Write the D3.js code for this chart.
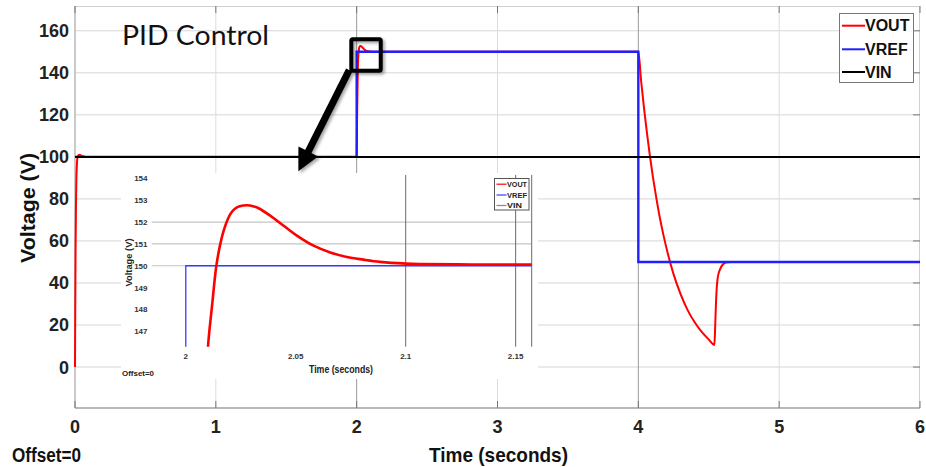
<!DOCTYPE html>
<html><head><meta charset="utf-8">
<script src="https://cdn.jsdelivr.net/npm/d3@7"></script>
<style>body{margin:0;background:#fff}svg{display:block}</style>
</head><body><svg id="c" width="926" height="467"></svg>
<script>
// ---------- data ----------
const timeTicks = [0, 1, 2, 3, 4, 5, 6];
const voltTicks = [0, 20, 40, 60, 80, 100, 120, 140, 160];
const vinTime = [0, 6];
const vinVolt = [100, 100];
const vrefTime = [0, 2, 2, 4, 4, 6];
const vrefVolt = [100, 100, 150, 150, 50, 50];
const voutTime = [0, 0.002, 0.004, 0.007, 0.01, 0.014, 0.02, 0.03, 0.045, 0.07, 0.1, 2.0,
  2.003, 2.006, 2.0085, 2.0101, 2.0119, 2.0139, 2.0157, 2.0172, 2.0195, 2.021, 2.0225, 2.0245, 2.0278,
  2.031, 2.0331, 2.0384, 2.0445, 2.0505, 2.0581, 2.0657, 2.0733, 2.0808, 2.0884, 2.1001, 2.1066,
  2.13, 2.16, 4.0,
  4.02, 4.04, 4.06, 4.08, 4.1, 4.12, 4.15, 4.18, 4.21, 4.25, 4.3, 4.35, 4.4, 4.45, 4.5, 4.54,
  4.545, 4.55, 4.557, 4.565, 4.58, 4.6, 4.63, 4.66, 6];
const voutVolt = [0, 30, 55, 78, 90, 97, 100.4, 101, 100.6, 100.1, 100, 100,
  118, 133, 142.5, 146.3, 148.13, 150, 151.0, 151.6, 152.22, 152.47, 152.62, 152.72, 152.77,
  152.71, 152.63, 152.29, 151.83, 151.38, 150.92, 150.61, 150.4, 150.28, 150.18, 150.1, 150.08,
  150.06, 150.05, 150,
  136, 123.4, 112, 101.5, 92, 83.6, 72, 62.3, 53.8, 44.2, 34.7, 27.1, 21.3, 16.7, 13.1, 10.5,
  18, 28, 38, 43, 46.5, 48.8, 49.9, 50, 50];
const seriesNames = ["VOUT", "VREF", "VIN"];
const seriesColors = ["#ff0000", "#1f1fff", "#000000"];
const insetSeriesColors = ["#ff0000", "#3a3aff", "#888888"];
const insetTimeTicks = [2, 2.05, 2.1, 2.15];
const insetVoltTicks = [147, 148, 149, 150, 151, 152, 153, 154];
const insetGridVolts = [150, 151, 152];
const insetGridTimes = [2.1, 2.15];
const zoomBox = {t0: 1.962, t1: 2.171, v0: 141, v1: 156};
const arrowFrom = {t: 1.947, v: 141.3};
const arrowTo = {t: 1.586, v: 93.2};

// ---------- setup ----------
const FONT = "'Liberation Sans', Arial, sans-serif";
const svg = d3.select("#c");
const defs = svg.append("defs");
const f = defs.append("filter").attr("id", "sh").attr("x", "-30%").attr("y", "-30%").attr("width", "160%").attr("height", "160%");
f.append("feDropShadow").attr("dx", 2).attr("dy", 2).attr("stdDeviation", 1.8).attr("flood-color", "#000").attr("flood-opacity", 0.35);

const L = 75, R = 920, T = 6, B = 408;
const x = d3.scaleLinear().domain([0, 6]).range([L, R]);
const y = d3.scaleLinear().domain([-19.5, 171.8]).range([B, T]);

const mk = (ts, vs) => ts.map((t, i) => [t, vs[i]]);
const vout = mk(voutTime, voutVolt), vref = mk(vrefTime, vrefVolt), vin = mk(vinTime, vinVolt);

// grid
const g = svg.append("g");
g.selectAll(".hg").data(voltTicks).join("line")
  .attr("x1", L).attr("x2", R).attr("y1", d => y(d)).attr("y2", d => y(d))
  .attr("stroke", "#d6d6d6").attr("stroke-width", 1);
g.selectAll(".vg").data(timeTicks.slice(1, -1)).join("line")
  .attr("x1", d => x(d)).attr("x2", d => x(d)).attr("y1", T).attr("y2", B)
  .attr("stroke", d => (d === 2 || d === 4) ? "#9a9a9a" : "#dcdcdc").attr("stroke-width", 1);
// frame
g.append("line").attr("x1", L).attr("x2", R).attr("y1", T + 0.5).attr("y2", T + 0.5).attr("stroke", "#d0d0d0");
g.append("line").attr("x1", R - 0.5).attr("x2", R - 0.5).attr("y1", T).attr("y2", B).attr("stroke", "#d0d0d0");
g.append("line").attr("x1", L).attr("x2", L).attr("y1", T).attr("y2", B).attr("stroke", "#b8b8b8").attr("stroke-width", 1.5);
g.append("line").attr("x1", L).attr("x2", R).attr("y1", B).attr("y2", B).attr("stroke", "#a0a0a0").attr("stroke-width", 1.5);
// inner ticks
g.selectAll(".tt").data(timeTicks).join("line")
  .attr("x1", d => x(d)).attr("x2", d => x(d)).attr("y1", T).attr("y2", T + 7).attr("stroke", "#777");
g.selectAll(".bt").data(timeTicks).join("line")
  .attr("x1", d => x(d)).attr("x2", d => x(d)).attr("y1", B - 7).attr("y2", B).attr("stroke", "#777");
g.selectAll(".rt").data(voltTicks).join("line")
  .attr("x1", R - 7).attr("x2", R).attr("y1", d => y(d)).attr("y2", d => y(d)).attr("stroke", "#777");

// tick labels
svg.append("g").selectAll("text").data(voltTicks).join("text")
  .attr("x", L - 6).attr("y", d => y(d)).attr("dy", "0.36em").attr("text-anchor", "end")
  .attr("font-family", FONT).attr("font-weight", "bold").attr("font-size", 18).attr("fill", "#222")
  .text(d => d);
svg.append("g").selectAll("text").data(timeTicks).join("text")
  .attr("x", d => x(d)).attr("y", 427).attr("dy", "0.36em").attr("text-anchor", "middle")
  .attr("font-family", FONT).attr("font-weight", "bold").attr("font-size", 18).attr("fill", "#222")
  .text(d => d);

// axis titles
svg.append("text").attr("transform", "translate(27,208) rotate(-90)")
  .attr("text-anchor", "middle").attr("dy", "0.36em")
  .attr("font-family", FONT).attr("font-weight", "bold").attr("font-size", 21).attr("fill", "#111")
  .attr("textLength", 110).attr("lengthAdjust", "spacingAndGlyphs").text("Voltage (V)");
svg.append("text").attr("x", 429).attr("y", 454).attr("dy", "0.36em")
  .attr("font-family", FONT).attr("font-weight", "bold").attr("font-size", 21).attr("fill", "#111")
  .attr("textLength", 139).attr("lengthAdjust", "spacingAndGlyphs").text("Time (seconds)");
svg.append("text").attr("x", 12).attr("y", 454.5).attr("dy", "0.36em")
  .attr("font-family", FONT).attr("font-weight", "bold").attr("font-size", 20).attr("fill", "#111")
  .attr("textLength", 69).attr("lengthAdjust", "spacingAndGlyphs").text("Offset=0");

// series (VOUT under VREF, VIN on top)
svg.append("path").datum(vout).attr("d", d3.line().x(d => x(d[0])).y(d => y(d[1])).curve(d3.curveMonotoneX)).attr("fill", "none")
  .attr("stroke", seriesColors[0]).attr("stroke-width", 2);
svg.append("path").datum(vref).attr("d", d3.line().x(d => x(d[0])).y(d => y(d[1]))).attr("fill", "none")
  .attr("stroke", seriesColors[1]).attr("stroke-width", 2.4);
svg.append("path").datum(vin).attr("d", d3.line().x(d => x(d[0])).y(d => y(d[1]))).attr("fill", "none")
  .attr("stroke", seriesColors[2]).attr("stroke-width", 2);

// title text
svg.append("text").attr("x", 122).attr("y", 45)
  .attr("font-family", "Lato, 'Open Sans', sans-serif").attr("font-size", 27).attr("fill", "#111")
  .attr("textLength", 147).attr("lengthAdjust", "spacingAndGlyphs").text("PID Control");

// legend
const lg = svg.append("g");
lg.append("rect").attr("x", 839.5).attr("y", 13.5).attr("width", 74).attr("height", 69)
  .attr("fill", "#fff").attr("stroke", "#777");
const legY = [25.7, 49.3, 72];
seriesNames.forEach((n, i) => {
  lg.append("line").attr("x1", 842).attr("x2", 865).attr("y1", legY[i]).attr("y2", legY[i])
    .attr("stroke", seriesColors[i]).attr("stroke-width", 2);
  lg.append("text").attr("x", 865).attr("y", legY[i]).attr("dy", "0.36em")
    .attr("font-family", FONT).attr("font-weight", "bold").attr("font-size", 16).attr("fill", "#111").text(n);
});

// ---------- inset ----------
const IL = 151.7, IR = 531.7, IT = 175, IB = 346.7;
const ix = d3.scaleLinear().domain([1.9845, 2.1573]).range([IL, IR]);
const iy = d3.scaleLinear().domain([146.3, 154.15]).range([IB, IT]);
const ins = svg.append("g");
ins.append("rect").attr("x", 121).attr("y", 173).attr("width", 417).attr("height", 206).attr("fill", "#fff");
defs.append("clipPath").attr("id", "ic").append("rect").attr("x", IL).attr("y", IT).attr("width", IR - IL).attr("height", IB - IT);
ins.selectAll(".ihg").data(insetGridVolts).join("line")
  .attr("x1", IL).attr("x2", IR).attr("y1", d => iy(d)).attr("y2", d => iy(d)).attr("stroke", "#c4c4c4").attr("stroke-width", 1.2);
ins.selectAll(".ivg").data(insetGridTimes).join("line")
  .attr("x1", d => ix(d)).attr("x2", d => ix(d)).attr("y1", IT).attr("y2", IB).attr("stroke", "#6a6a6a").attr("stroke-width", 1);
ins.append("line").attr("x1", IR).attr("x2", IR).attr("y1", IT).attr("y2", IB).attr("stroke", "#6a6a6a");
ins.selectAll(".iyl").data(insetVoltTicks).join("text")
  .attr("x", 147.5).attr("y", d => iy(d)).attr("dy", "0.36em").attr("text-anchor", "end")
  .attr("font-family", FONT).attr("font-weight", "bold").attr("font-size", 8).attr("fill", "#333").text(d => d);
ins.selectAll(".ixl").data(insetTimeTicks).join("text")
  .attr("x", d => ix(d)).attr("y", 356.5).attr("dy", "0.36em").attr("text-anchor", "middle")
  .attr("font-family", FONT).attr("font-weight", "bold").attr("font-size", 8).attr("fill", "#333").text(d => d);
ins.append("text").attr("x", 309).attr("y", 369.5).attr("dy", "0.36em")
  .attr("font-family", FONT).attr("font-weight", "bold").attr("font-size", 10).attr("fill", "#222")
  .attr("textLength", 64).attr("lengthAdjust", "spacingAndGlyphs").text("Time (seconds)");
ins.append("text").attr("transform", "translate(129,262.5) rotate(-90)").attr("text-anchor", "middle").attr("dy", "0.36em")
  .attr("font-family", FONT).attr("font-weight", "bold").attr("font-size", 9).attr("fill", "#222")
  .attr("textLength", 48).attr("lengthAdjust", "spacingAndGlyphs").text("Voltage (V)");
ins.append("text").attr("x", 122).attr("y", 373.3).attr("dy", "0.36em")
  .attr("font-family", FONT).attr("font-weight", "bold").attr("font-size", 8).attr("fill", "#222")
  .attr("textLength", 32).attr("lengthAdjust", "spacingAndGlyphs").text("Offset=0");
const ic = ins.append("g").attr("clip-path", "url(#ic)");
ic.append("path").datum(vin).attr("d", d3.line().x(d => ix(d[0])).y(d => iy(d[1]))).attr("fill", "none")
  .attr("stroke", insetSeriesColors[2]).attr("stroke-width", 1);
ic.append("path").datum(vref).attr("d", d3.line().x(d => ix(d[0])).y(d => iy(d[1]))).attr("fill", "none")
  .attr("stroke", insetSeriesColors[1]).attr("stroke-width", 1.3);
ic.append("path").datum(vout.filter(d => d[0] >= 2 && d[0] <= 4))
  .attr("d", d3.line().x(d => ix(d[0])).y(d => iy(d[1])).curve(d3.curveCatmullRom.alpha(0.5))).attr("fill", "none")
  .attr("stroke", insetSeriesColors[0]).attr("stroke-width", 2.6);
// inset legend
ins.append("rect").attr("x", 494.5).attr("y", 178.5).attr("width", 34.5).attr("height", 31.5).attr("fill", "#fff").attr("stroke", "#555");
const iLegY = [184.2, 195, 205.5];
seriesNames.forEach((n, i) => {
  ins.append("line").attr("x1", 496.5).attr("x2", 506.5).attr("y1", iLegY[i]).attr("y2", iLegY[i])
    .attr("stroke", insetSeriesColors[i]).attr("stroke-width", 1.2);
  ins.append("text").attr("x", 507).attr("y", iLegY[i]).attr("dy", "0.36em")
    .attr("font-family", FONT).attr("font-weight", "bold").attr("font-size", 7.5).attr("fill", "#222")
    .attr("textLength", n.length * 5).attr("lengthAdjust", "spacingAndGlyphs").text(n);
});

// ---------- annotation: zoom box and arrow ----------
const an = svg.append("g").attr("filter", "url(#sh)");
an.append("rect").attr("x", x(zoomBox.t0)).attr("y", y(zoomBox.v1))
  .attr("width", x(zoomBox.t1) - x(zoomBox.t0)).attr("height", y(zoomBox.v0) - y(zoomBox.v1))
  .attr("rx", 1.5).attr("fill", "none").attr("stroke", "#000").attr("stroke-width", 4);
const ax0 = x(arrowFrom.t), ay0 = y(arrowFrom.v), ax1 = x(arrowTo.t), ay1 = y(arrowTo.v);
const dx = ax1 - ax0, dy = ay1 - ay0, len = Math.hypot(dx, dy), ux = dx / len, uy = dy / len;
const hl = 22, hw = 11;
const bx = ax1 - hl * ux, by = ay1 - hl * uy;
an.append("line").attr("x1", ax0).attr("y1", ay0).attr("x2", bx + ux * 2).attr("y2", by + uy * 2)
  .attr("stroke", "#000").attr("stroke-width", 7);
an.append("path").attr("d", `M${ax1},${ay1}L${bx - uy * hw},${by + ux * hw}L${bx + uy * hw},${by - ux * hw}Z`).attr("fill", "#000");
</script></body></html>
